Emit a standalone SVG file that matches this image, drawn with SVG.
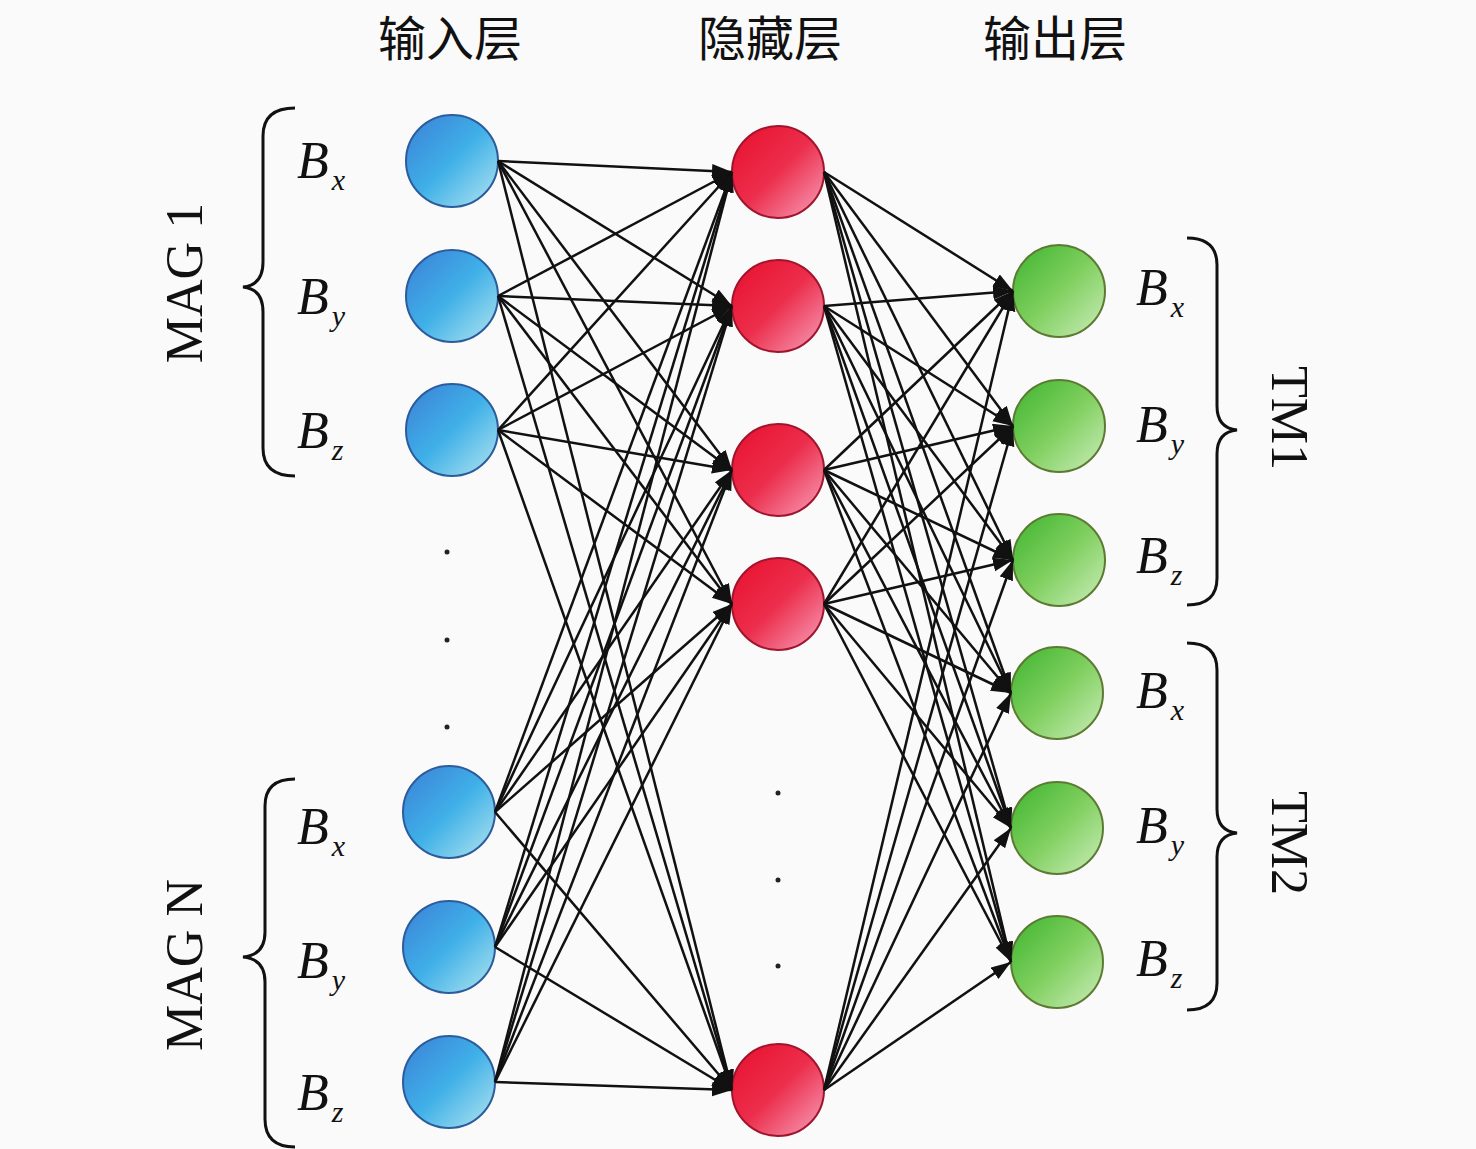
<svg xmlns="http://www.w3.org/2000/svg" width="1476" height="1149" viewBox="0 0 1476 1149">
<style>
.title{font-family:"Noto Sans CJK SC","Noto Sans CJK JP",sans-serif;font-size:48px;fill:#111;text-anchor:middle}
.lbl{font-family:"Liberation Serif",serif;font-style:italic;font-size:52px;fill:#111}
.sub{font-size:30px}
.grp{font-family:"Liberation Serif",serif;font-size:52px;fill:#111;text-anchor:middle}
.brace{fill:none;stroke:#111;stroke-width:3}
.in{fill:url(#gBlue);stroke:#2c5c9c;stroke-width:2}
.hid{fill:url(#gRed);stroke:#a0142e;stroke-width:2}
.out{fill:url(#gGreen);stroke:#5d7a32;stroke-width:2}
.conn line{stroke:#111;stroke-width:2.5;marker-end:url(#arr)}
.dot{fill:#222}
</style>
<defs>
<linearGradient id="gBlue" x1="0" y1="0" x2="1" y2="1">
<stop offset="0" stop-color="#3c7fd6"/><stop offset="0.5" stop-color="#3fb0e8"/><stop offset="1" stop-color="#b4e6ef"/>
</linearGradient>
<linearGradient id="gRed" x1="0" y1="0" x2="1" y2="1">
<stop offset="0" stop-color="#e80f2c"/><stop offset="0.5" stop-color="#ec2e4c"/><stop offset="1" stop-color="#f7a2bc"/>
</linearGradient>
<linearGradient id="gGreen" x1="0" y1="0" x2="1" y2="1">
<stop offset="0" stop-color="#3cb42e"/><stop offset="0.5" stop-color="#7fcf5e"/><stop offset="1" stop-color="#cdeebd"/>
</linearGradient>
<marker id="arr" markerUnits="userSpaceOnUse" markerWidth="22" markerHeight="16" refX="20" refY="7" orient="auto">
<path d="M0,0 L20,7 L0,14 z" fill="#111"/>
</marker>
</defs>
<rect x="0" y="0" width="1476" height="1149" fill="#fafafa"/>

<g id="titles">
<text class="title" x="450" y="56">输入层</text>
<text class="title" x="770" y="56">隐藏层</text>
<text class="title" x="1055" y="56">输出层</text>
</g>

<g id="group-labels">
<text class="grp" transform="translate(202,283) rotate(-90)">MAG 1</text>
<text class="grp" transform="translate(202,965) rotate(-90)">MAG N</text>
<text class="grp" transform="translate(1272,418) rotate(90)">TM1</text>
<text class="grp" transform="translate(1272,843) rotate(90)">TM2</text>
</g>

<g id="braces">
<path class="brace" d="M295,108 Q263,108 263,136 L263,262 Q263,285 243,287 Q263,289 263,312 L263,448 Q263,476 295,476"/>
<path class="brace" d="M295,779 Q265,779 265,806 L265,932 Q265,955 243,957 Q265,959 265,982 L265,1119 Q265,1147 295,1147"/>
<path class="brace" d="M1187,238 Q1217,238 1217,265 L1217,406 Q1217,428 1237,430 Q1217,432 1217,454 L1217,578 Q1217,605 1187,605"/>
<path class="brace" d="M1187,643 Q1217,643 1217,670 L1217,809 Q1217,831 1237,833 Q1217,835 1217,857 L1217,983 Q1217,1010 1187,1010"/>
</g>

<g id="labels">
<text class="lbl" x="297" y="178">B<tspan class="sub" dx="3" dy="12">x</tspan></text>
<text class="lbl" x="297" y="314">B<tspan class="sub" dx="3" dy="12">y</tspan></text>
<text class="lbl" x="297" y="448">B<tspan class="sub" dx="3" dy="12">z</tspan></text>
<text class="lbl" x="297" y="844">B<tspan class="sub" dx="3" dy="12">x</tspan></text>
<text class="lbl" x="297" y="978">B<tspan class="sub" dx="3" dy="12">y</tspan></text>
<text class="lbl" x="297" y="1110">B<tspan class="sub" dx="3" dy="12">z</tspan></text>
<text class="lbl" x="1136" y="305">B<tspan class="sub" dx="3" dy="12">x</tspan></text>
<text class="lbl" x="1136" y="442">B<tspan class="sub" dx="3" dy="12">y</tspan></text>
<text class="lbl" x="1136" y="573">B<tspan class="sub" dx="3" dy="12">z</tspan></text>
<text class="lbl" x="1136" y="708">B<tspan class="sub" dx="3" dy="12">x</tspan></text>
<text class="lbl" x="1136" y="843">B<tspan class="sub" dx="3" dy="12">y</tspan></text>
<text class="lbl" x="1136" y="976">B<tspan class="sub" dx="3" dy="12">z</tspan></text>
</g>

<g id="in1"><circle class="in" cx="452" cy="161" r="46"/></g>
<g id="in2"><circle class="in" cx="452" cy="296" r="46"/></g>
<g id="in3"><circle class="in" cx="452" cy="430" r="46"/></g>
<g id="in4"><circle class="in" cx="449" cy="812" r="46"/></g>
<g id="in5"><circle class="in" cx="449" cy="947" r="46"/></g>
<g id="in6"><circle class="in" cx="449" cy="1082" r="46"/></g>

<g id="hid1"><circle class="hid" cx="778" cy="172" r="46"/></g>
<g id="hid2"><circle class="hid" cx="778" cy="306" r="46"/></g>
<g id="hid3"><circle class="hid" cx="778" cy="470" r="46"/></g>
<g id="hid4"><circle class="hid" cx="778" cy="604" r="46"/></g>
<g id="hid5"><circle class="hid" cx="778" cy="1090" r="46"/></g>

<g id="out1"><circle class="out" cx="1059" cy="291" r="46"/></g>
<g id="out2"><circle class="out" cx="1059" cy="426" r="46"/></g>
<g id="out3"><circle class="out" cx="1059" cy="560" r="46"/></g>
<g id="out4"><circle class="out" cx="1057" cy="693" r="46"/></g>
<g id="out5"><circle class="out" cx="1057" cy="828" r="46"/></g>
<g id="out6"><circle class="out" cx="1057" cy="962" r="46"/></g>

<g id="ellipsis">
<circle class="dot" cx="447" cy="552" r="2.5"/>
<circle class="dot" cx="447" cy="640" r="2.5"/>
<circle class="dot" cx="447" cy="727" r="2.5"/>
<circle class="dot" cx="778" cy="793" r="2.5"/>
<circle class="dot" cx="778" cy="880" r="2.5"/>
<circle class="dot" cx="778" cy="966" r="2.5"/>
</g>

<g id="connectors" class="conn">
<line x1="498" y1="161" x2="732" y2="172"/>
<line x1="498" y1="161" x2="732" y2="306"/>
<line x1="498" y1="161" x2="732" y2="470"/>
<line x1="498" y1="161" x2="732" y2="604"/>
<line x1="498" y1="161" x2="732" y2="1090"/>
<line x1="498" y1="296" x2="732" y2="172"/>
<line x1="498" y1="296" x2="732" y2="306"/>
<line x1="498" y1="296" x2="732" y2="470"/>
<line x1="498" y1="296" x2="732" y2="604"/>
<line x1="498" y1="296" x2="732" y2="1090"/>
<line x1="498" y1="430" x2="732" y2="172"/>
<line x1="498" y1="430" x2="732" y2="306"/>
<line x1="498" y1="430" x2="732" y2="470"/>
<line x1="498" y1="430" x2="732" y2="604"/>
<line x1="498" y1="430" x2="732" y2="1090"/>
<line x1="495" y1="812" x2="732" y2="172"/>
<line x1="495" y1="812" x2="732" y2="306"/>
<line x1="495" y1="812" x2="732" y2="470"/>
<line x1="495" y1="812" x2="732" y2="604"/>
<line x1="495" y1="812" x2="732" y2="1090"/>
<line x1="495" y1="947" x2="732" y2="172"/>
<line x1="495" y1="947" x2="732" y2="306"/>
<line x1="495" y1="947" x2="732" y2="470"/>
<line x1="495" y1="947" x2="732" y2="604"/>
<line x1="495" y1="947" x2="732" y2="1090"/>
<line x1="495" y1="1082" x2="732" y2="172"/>
<line x1="495" y1="1082" x2="732" y2="306"/>
<line x1="495" y1="1082" x2="732" y2="470"/>
<line x1="495" y1="1082" x2="732" y2="604"/>
<line x1="495" y1="1082" x2="732" y2="1090"/>

<line x1="824" y1="172" x2="1013" y2="291"/>
<line x1="824" y1="172" x2="1013" y2="426"/>
<line x1="824" y1="172" x2="1013" y2="560"/>
<line x1="824" y1="172" x2="1011" y2="693"/>
<line x1="824" y1="172" x2="1011" y2="828"/>
<line x1="824" y1="172" x2="1011" y2="962"/>
<line x1="824" y1="306" x2="1013" y2="291"/>
<line x1="824" y1="306" x2="1013" y2="426"/>
<line x1="824" y1="306" x2="1013" y2="560"/>
<line x1="824" y1="306" x2="1011" y2="693"/>
<line x1="824" y1="306" x2="1011" y2="828"/>
<line x1="824" y1="306" x2="1011" y2="962"/>
<line x1="824" y1="470" x2="1013" y2="291"/>
<line x1="824" y1="470" x2="1013" y2="426"/>
<line x1="824" y1="470" x2="1013" y2="560"/>
<line x1="824" y1="470" x2="1011" y2="693"/>
<line x1="824" y1="470" x2="1011" y2="828"/>
<line x1="824" y1="470" x2="1011" y2="962"/>
<line x1="824" y1="604" x2="1013" y2="291"/>
<line x1="824" y1="604" x2="1013" y2="426"/>
<line x1="824" y1="604" x2="1013" y2="560"/>
<line x1="824" y1="604" x2="1011" y2="693"/>
<line x1="824" y1="604" x2="1011" y2="828"/>
<line x1="824" y1="604" x2="1011" y2="962"/>
<line x1="824" y1="1090" x2="1013" y2="291"/>
<line x1="824" y1="1090" x2="1013" y2="426"/>
<line x1="824" y1="1090" x2="1013" y2="560"/>
<line x1="824" y1="1090" x2="1011" y2="693"/>
<line x1="824" y1="1090" x2="1011" y2="828"/>
<line x1="824" y1="1090" x2="1011" y2="962"/>
</g>
</svg>
